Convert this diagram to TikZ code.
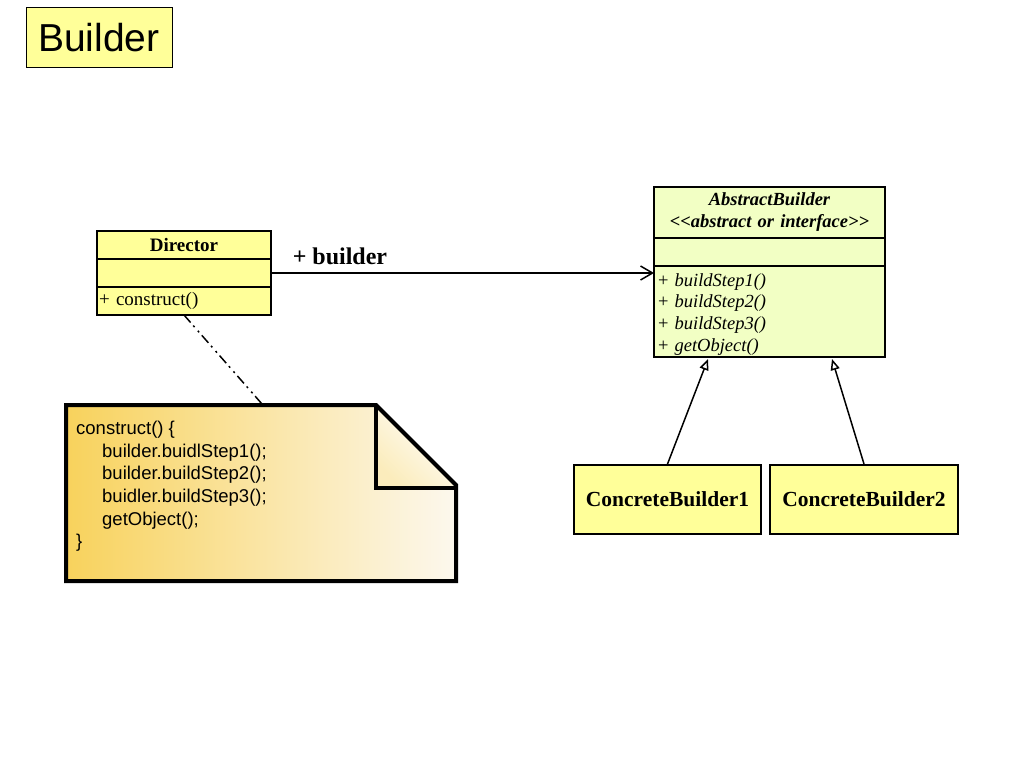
\documentclass[tikz,border=0pt]{standalone}
\usepackage{fontspec}
\setmainfont{Liberation Serif}
\setsansfont{Liberation Sans}
\usetikzlibrary{arrows.meta,positioning}
\definecolor{clsyellow}{RGB}{255,255,153}
\definecolor{absyellow}{RGB}{242,255,196}
\definecolor{noteleft}{RGB}{248,210,92}
\definecolor{notemid}{RGB}{251,236,188}
\definecolor{noteright}{RGB}{252,248,238}
\tikzset{
  clsname/.style={draw,line width=2pt,outer sep=0pt,fill=clsyellow,minimum width=174pt,minimum height=28pt,inner sep=0pt,
    font=\fontsize{19}{22}\selectfont\bfseries},
  clsbox/.style={draw,line width=2pt,outer sep=0pt,fill=clsyellow,minimum width=174pt,inner sep=2pt,text width=170pt,align=left,
    font=\fontsize{19}{22}\selectfont},
  absbox/.style={draw,line width=2pt,outer sep=0pt,fill=absyellow,minimum width=231pt,inner xsep=4pt,inner ysep=2pt,text width=223pt,
    font=\fontsize{18.5}{21.7}\selectfont},
  concrete/.style={draw,line width=2pt,fill=clsyellow,minimum height=69pt,inner sep=0pt,
    font=\fontsize{21.5}{24}\selectfont\bfseries},
  assoc/.style={-{Straight Barb[length=12pt,width=14pt]},line width=1.5pt},
  generalize/.style={-{Triangle[open,length=11pt,width=9pt]},line width=1.5pt},
  noteline/.style={line width=1.5pt,dash pattern=on 10pt off 4pt on 2pt off 5pt on 2pt off 4pt}
}

\begin{document}
\begin{tikzpicture}[x=1pt,y=-1pt]
  \useasboundingbox[fill=white] (0,0) rectangle (1024,768);

  \node[draw,line width=1pt,fill=clsyellow,minimum width=146pt,minimum height=59pt,
    font=\sffamily\fontsize{39}{44}\selectfont] (title) at (99,37.5) {Builder};

  \node[clsname] (dir) at (184,245) {Director};
  \node[clsbox,minimum height=28pt,below=0pt of dir] (dirattr) {};
  \node[clsbox,minimum height=28pt,below=0pt of dirattr] (dirops) {+ construct()};

  \node[absbox,minimum height=51pt,align=center,font=\fontsize{18.5}{22}\selectfont\bfseries\itshape] (abs) at (769.5,212.5)
    {AbstractBuilder\\<{}<abstract or interface>{}>};
  \node[absbox,minimum height=28pt,below=0pt of abs] (absattr) {};
  \node[absbox,minimum height=91pt,align=left,below=0pt of absattr] (absops)
    {\rule{0pt}{18pt}+ \textit{buildStep1()}\\+ \textit{buildStep2()}\\+ \textit{buildStep3()}\\+ \textit{getObject()}};

  \node[concrete,minimum width=187pt] (cb1) at (667.5,499.5) {ConcreteBuilder1};
  \node[concrete,minimum width=188pt] (cb2) at (864,499.5) {ConcreteBuilder2};

  \draw[assoc] (dirattr.east) -- node[above=4pt,pos=0.18,font=\fontsize{24}{26}\selectfont\bfseries] {+ builder}
    (dirattr.east -| absops.west);

  \coordinate (gen1) at (708,359);
  \coordinate (gen2) at (832,359);
  \draw[generalize] (cb1.north) -- (gen1);
  \draw[generalize] (cb2.north) -- (gen2);

  \fill[left color=noteleft,middle color=notemid,right color=noteright]
    (66,405) -- (376,405) -- (456,485) -- (456,581) -- (66,581) -- cycle;
  \fill[shading=axis,top color=white,bottom color=notemid,shading angle=-45]
    (376,405) -- (456,486) -- (376,486) -- cycle;
  \draw[line width=4pt,line join=miter]
    (66,405) -- (376,405) -- (456,485) -- (456,581) -- (66,581) -- cycle;
  \draw[line width=4pt] (376,405) -- (376,488) -- (456,488);
  \coordinate (note) at (262,404);
  \node[anchor=north west,inner sep=0pt,align=left,font=\sffamily\fontsize{18.5}{22.6}\selectfont] (code) at (76,421)
    {construct() \{\\
     \hspace*{26pt}builder.buidlStep1();\\
     \hspace*{26pt}builder.buildStep2();\\
     \hspace*{26pt}buidler.buildStep3();\\
     \hspace*{26pt}getObject();\\
     \}};

  \draw[noteline] (dirops.south) -- (note);
\end{tikzpicture}
\end{document}
